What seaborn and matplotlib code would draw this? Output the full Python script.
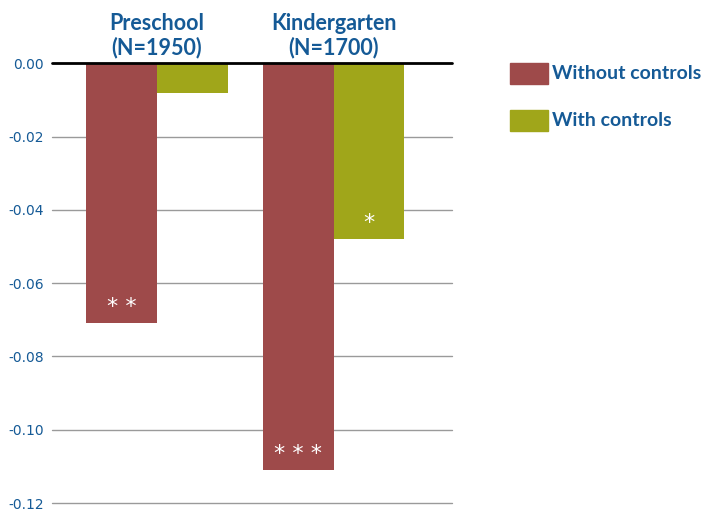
import pandas as pd
import matplotlib.pyplot as plt
import matplotlib.patches as mpatches
import seaborn as sns

# data
groups = ["Preschool\n(N=1950)", "Kindergarten\n(N=1700)"]
without_controls = [-0.071, -0.111]
with_controls = [-0.008, -0.048]
stars_without = ["* *", "* * *"]
stars_with = ["", "*"]
series = ["Without controls", "With controls"]

red = "#9e4a4a"
olive = "#a0a61a"
blue = "#155a96"
narrow = ["Lato", "DejaVu Sans"]

df = pd.DataFrame({
    "group": groups * 2,
    "series": [series[0]] * 2 + [series[1]] * 2,
    "value": without_controls + with_controls,
})

sns.set_style("white")
plt.rcParams["font.family"] = ["DejaVu Sans"]

fig = plt.figure(figsize=(7.17, 5.14), dpi=100)
ax = fig.add_axes([0.0725, 0.0214, 0.5575, 0.8556])

sns.barplot(data=df, x="group", y="value", hue="series", palette=[red, olive],
            width=0.8, saturation=1, ax=ax, legend=False, zorder=3, linewidth=0)

ax.set_ylim(-0.12, 0)
ax.set_xlim(-0.593, 1.667)
ticks = [-0.12, -0.10, -0.08, -0.06, -0.04, -0.02, 0.0]
ax.set_yticks(ticks)
ax.set_yticklabels(["%.2f" % t for t in ticks])
ax.tick_params(axis="y", length=0, pad=6, labelsize=10, labelcolor=blue)
ax.set_xticks([])
ax.set_xlabel("")
ax.set_ylabel("")
for s in ax.spines.values():
    s.set_visible(False)

# gridlines
for t in ticks[:-1]:
    ax.axhline(t, color="#9a9a9a", lw=1, zorder=1, clip_on=False)
ax.axhline(0, color="black", lw=2, zorder=4, clip_on=False)

# group titles above the chart
for i, g in enumerate(groups):
    ax.text(i, 0.0014, g, ha="center", va="bottom", fontsize=15.5, fontweight="bold",
            color=blue, linespacing=1.12, family=narrow, clip_on=False)

# significance stars
for i in range(2):
    if stars_without[i]:
        ax.text(i - 0.2, without_controls[i] + 0.0045, stars_without[i], ha="center",
                va="center", color="white", fontsize=16, zorder=5)
    if stars_with[i]:
        ax.text(i + 0.2, with_controls[i] + 0.0045, stars_with[i], ha="center",
                va="center", color="white", fontsize=16, zorder=5)

# legend drawn by hand so it sits where the reference has it
colors = [red, olive]
for k, lab in enumerate(series):
    top = 63 + 47 * k
    fig.patches.append(mpatches.Rectangle((510 / 717, 1 - (top + 21) / 514), 38 / 717, 21 / 514,
                                          color=colors[k], transform=fig.transFigure))
    fig.text(552 / 717, 1 - (top + 10.5) / 514, lab, ha="left", va="center", fontsize=14,
             fontweight="bold", color=blue, family=narrow)

fig.savefig("out.png", dpi=100)
